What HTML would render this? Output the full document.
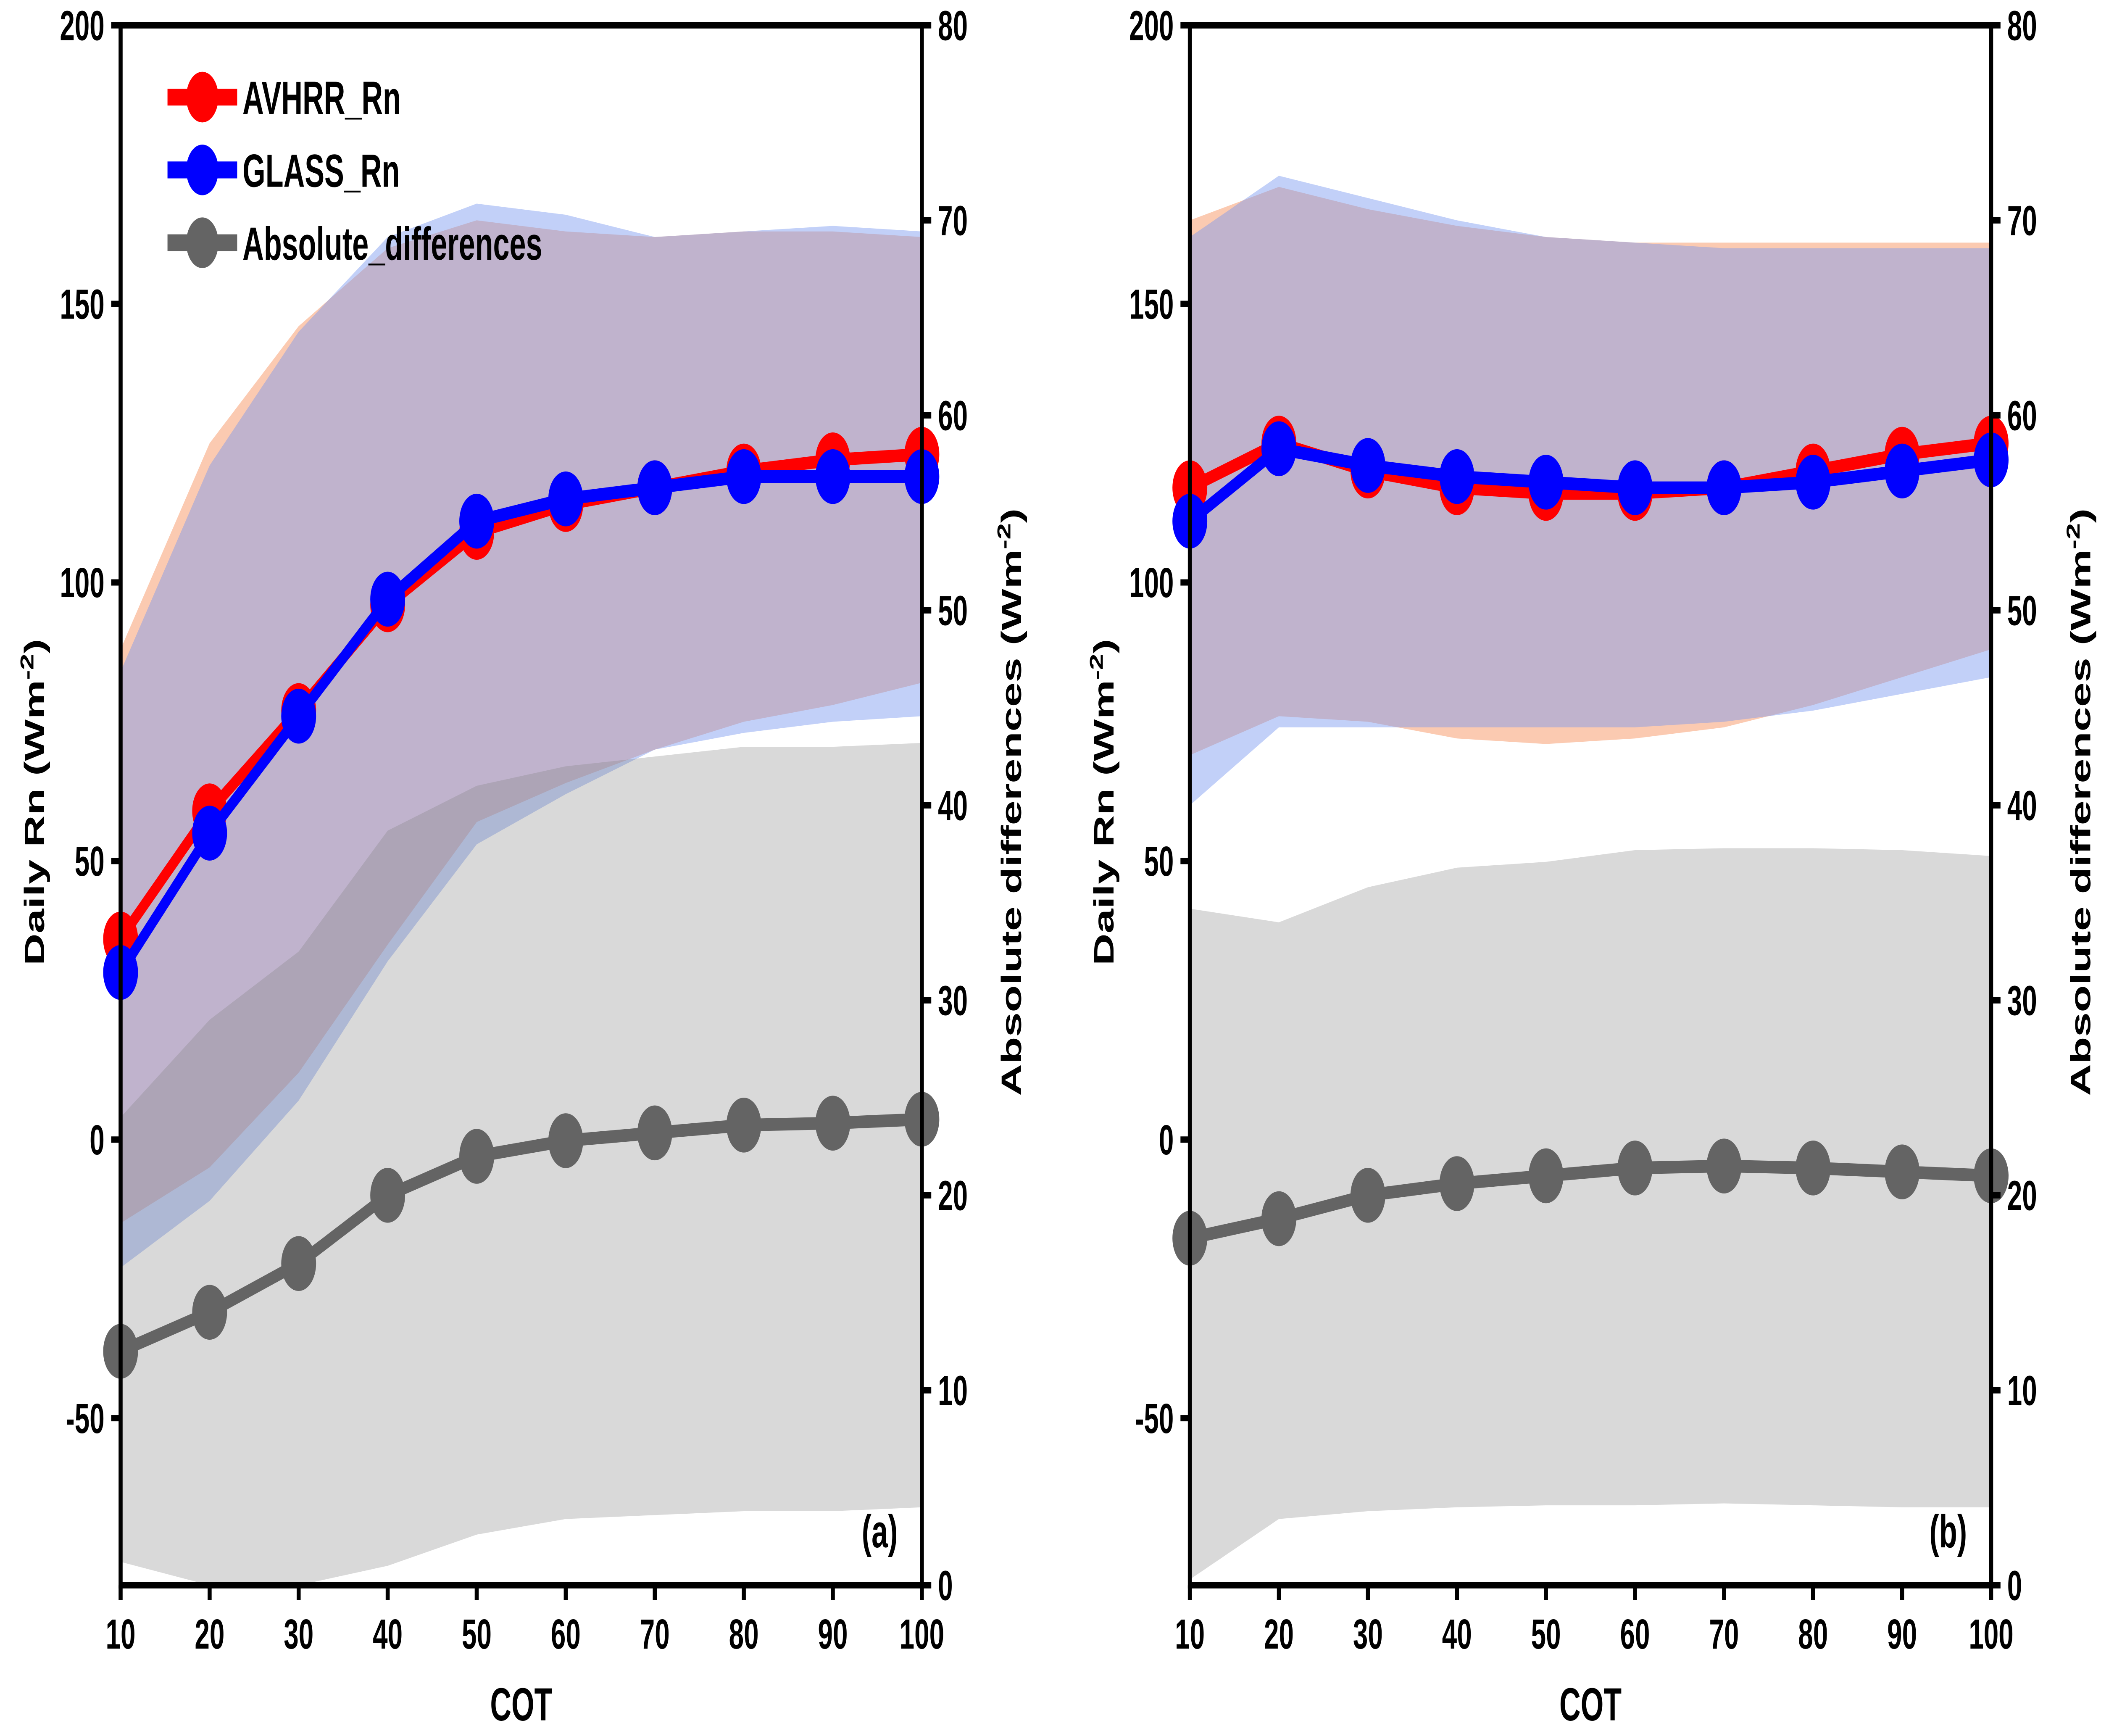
<!DOCTYPE html>
<html><head><meta charset="utf-8"><style>
html,body{margin:0;padding:0;background:#fff;overflow:hidden;width:100%;height:100%;}
svg{display:block;width:100vw;height:100vh;font-family:"Liberation Sans",sans-serif;font-weight:bold;}
</style></head><body>
<svg id="chart" viewBox="0 0 1568 822.4" preserveAspectRatio="none" xmlns="http://www.w3.org/2000/svg"></svg>
<script>
const cot=[10,20,30,40,50,60,70,80,90,100];
const leftTicks=[-50,0,50,100,150,200];
const rightTicks=[0,10,20,30,40,50,60,70,80];
const xTicks=[10,20,30,40,50,60,70,80,90,100];
// Panel a
const aAvhrr=[36,59,77,96,109,114,117,120,122,123];
const aGlass=[30,55,76,97,111,115,117,119,119,119];
const aAvhrrUp=[88,125,146,160,165,163,162,163,163,162];
const aAvhrrLo=[-15,-5,12,35,57,64,70,75,78,82];
const aGlassUp=[84,121,145,162,168,166,162,163,164,163];
const aGlassLo=[-23,-11,7,32,53,62,70,73,75,76];
const aDiff=[12,14,16.5,20,22,22.8,23.2,23.6,23.7,23.9];
const aDiffUp=[24,29,32.5,38.7,41,42,42.5,43,43,43.2];
const aDiffLo=[1.2,0,0,1,2.6,3.4,3.6,3.8,3.8,4];
// Panel b
const bAvhrr=[117,125,120,117,116,116,117,120,123,125];
const bGlass=[111,124,121,119,118,117,117,118,120,122];
const bAvhrrUp=[165,171,167,164,162,161,161,161,161,161];
const bAvhrrLo=[69,76,75,72,71,72,74,78,83,88];
const bGlassUp=[162,173,169,165,162,161,160,160,160,160];
const bGlassLo=[60,74,74,74,74,74,75,77,80,83];
const bDiff=[17.8,18.8,20,20.6,21,21.4,21.5,21.4,21.2,21];
const bDiffUp=[34.7,34,35.8,36.8,37.1,37.7,37.8,37.8,37.7,37.4];
const bDiffLo=[0.3,3.4,3.8,4,4.1,4.1,4.2,4.1,4,4];

const NS="http://www.w3.org/2000/svg";
const svg=document.getElementById('chart');
function el(tag,attrs,parent){const e=document.createElementNS(NS,tag);for(const k in attrs)e.setAttribute(k,attrs[k]);(parent||svg).appendChild(e);return e;}

function panel(x0,x1,label,d,legend){
  const top=12,bot=751;
  const g=el('g',{});
  
  
  const X=v=>x0+(v-10)/90*(x1-x0);
  const YL=v=>bot-(v+80)/280*(bot-top);
  const YR=v=>bot-v/80*(bot-top);
  function band(up,lo,Y,fill,name){
    let pts=cot.map((c,i)=>X(c)+','+Y(up[i]));
    for(let i=cot.length-1;i>=0;i--)pts.push(X(cot[i])+','+Y(lo[i]));
    const p=el('polygon',{points:pts.join(' '),fill:fill},g);
    
    
  }
  band(d.au,d.al,YL,'rgba(247,150,100,0.5)','avhrr-range-band');
  band(d.gu,d.gl,YL,'rgba(120,150,240,0.45)','glass-range-band');
  band(d.du,d.dl,YR,'rgba(128,128,128,0.3)','difference-range-band');
  function series(vals,Y,col,w,name){
    const l=el('polyline',{points:cot.map((c,i)=>X(c)+','+Y(vals[i])).join(' '),fill:'none',stroke:col,'stroke-width':w,'stroke-linejoin':'round'},g);
    
    
    cot.forEach((c,i)=>{const m=el('circle',{cx:X(c),cy:Y(vals[i]),r:13,fill:col},g);
      
      });
  }
  series(d.diff,YR,'#646464',6,'absolute-differences');
  series(d.a,YL,'#ff0000',6,'avhrr-rn');
  series(d.g,YL,'#0000ff',6,'glass-rn');
  const f=el('rect',{x:x0,y:top,width:x1-x0,height:bot-top,fill:'none',stroke:'#000','stroke-width':3},g);
  
  
  leftTicks.forEach(v=>{el('line',{x1:x0-7,x2:x0,y1:YL(v),y2:YL(v),stroke:'#000','stroke-width':3},g);
    const t=el('text',{x:x0-12,y:YL(v)+7,'text-anchor':'end','font-size':20},g);t.textContent=v;
    });
  rightTicks.forEach(v=>{el('line',{x1:x1,x2:x1+7,y1:YR(v),y2:YR(v),stroke:'#000','stroke-width':3},g);
    const t=el('text',{x:x1+12,y:YR(v)+7,'text-anchor':'start','font-size':20},g);t.textContent=v;
    });
  xTicks.forEach(v=>{el('line',{x1:X(v),x2:X(v),y1:bot,y2:bot+7,stroke:'#000','stroke-width':3},g);
    const t=el('text',{x:X(v),y:bot+30,'text-anchor':'middle','font-size':20},g);t.textContent=v;
    });
  const xt=el('text',{x:(x0+x1)/2,y:815,'text-anchor':'middle','font-size':22},g);xt.textContent='COT';
  
  const yl=el('text',{transform:`translate(${x0-57},380) rotate(-90)`,'text-anchor':'middle','font-size':21},g);
  yl.innerHTML='Daily Rn (Wm<tspan dy="-8" font-size="14">-2</tspan><tspan dy="8">)</tspan>';
  
  const yr=el('text',{transform:`translate(${x1+74},380) rotate(-90)`,'text-anchor':'middle','font-size':21},g);
  yr.innerHTML='Absolute differences (Wm<tspan dy="-8" font-size="14">-2</tspan><tspan dy="8">)</tspan>';
  
  const pl=el('text',{x:x1-18,y:733,'text-anchor':'end','font-size':22},g);pl.textContent='('+label+')';
  
  if(legend){
    const items=[['AVHRR_Rn','#ff0000'],['GLASS_Rn','#0000ff'],['Absolute_differences','#646464']];
    items.forEach((it,i)=>{const y=46+i*34.5;
      const lg=el('g',{},g);
      
      el('line',{x1:125,x2:177,y1:y,y2:y,stroke:it[1],'stroke-width':8},lg);
      el('circle',{cx:151,cy:y,r:12,fill:it[1]},lg);
      const t=el('text',{x:181,y:y+8,'font-size':22},lg);t.textContent=it[0];});
  }
}
panel(90,688,'a',{a:aAvhrr,g:aGlass,au:aAvhrrUp,al:aAvhrrLo,gu:aGlassUp,gl:aGlassLo,diff:aDiff,du:aDiffUp,dl:aDiffLo},true);
panel(888,1486,'b',{a:bAvhrr,g:bGlass,au:bAvhrrUp,al:bAvhrrLo,gu:bGlassUp,gl:bGlassLo,diff:bDiff,du:bDiffUp,dl:bDiffLo},false);
</script>
</body></html>
